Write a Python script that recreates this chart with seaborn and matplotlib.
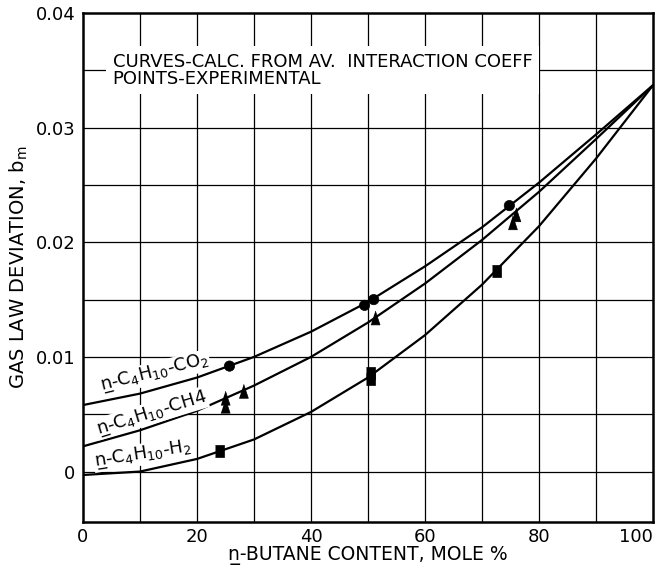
import numpy as np
import pandas as pd
import matplotlib
matplotlib.use("Agg")
import matplotlib.pyplot as plt
import seaborn as sns

# --- dados ---
curve_x = [0, 10, 20, 30, 40, 50, 60, 70, 80, 90, 100]
co2_curve = [0.0058, 0.0068, 0.0082, 0.0100, 0.0122, 0.0148, 0.0179, 0.0213, 0.0252, 0.0294, 0.0337]
ch4_curve = [0.0022, 0.0036, 0.0053, 0.0075, 0.0100, 0.0130, 0.0164, 0.0202, 0.0244, 0.0290, 0.0337]
h2_curve = [-0.0003, 0.0000, 0.0011, 0.0028, 0.0052, 0.0082, 0.0119, 0.0163, 0.0214, 0.0273, 0.0337]

co2_pts_x = [25.7, 49.4, 51.0, 74.8]
co2_pts_y = [0.0092, 0.0145, 0.0150, 0.0232]
ch4_pts_x = [25.0, 25.0, 28.2, 51.3, 76.0, 75.4]
ch4_pts_y = [0.0064, 0.0057, 0.0070, 0.0134, 0.0224, 0.0217]
h2_pts_x = [24.0, 50.5, 50.5, 72.5]
h2_pts_y = [0.0018, 0.0081, 0.0086, 0.0175]

x_ticks = [0, 20, 40, 60, 80, 100]
y_ticks = [0, 0.01, 0.02, 0.03, 0.04]
y_tick_labels = ["0", "0.01", "0.02", "0.03", "0.04"]

sns.set_theme(style="white")
plt.rcParams["font.family"] = ["DejaVu Sans"]
plt.rcParams["mathtext.default"] = "regular"
plt.rcParams["text.color"] = "black"
plt.rcParams["axes.labelcolor"] = "black"

N_SUB = "n\u0332"  # n sublinhado

df_curvas = pd.DataFrame({
    "x": curve_x * 3,
    "b": co2_curve + ch4_curve + h2_curve,
    "sistema": ["CO2"] * 11 + ["CH4"] * 11 + ["H2"] * 11,
})
df_pontos = pd.DataFrame({
    "x": co2_pts_x + ch4_pts_x + h2_pts_x,
    "b": co2_pts_y + ch4_pts_y + h2_pts_y,
    "sistema": ["CO2"] * len(co2_pts_x) + ["CH4"] * len(ch4_pts_x) + ["H2"] * len(h2_pts_x),
})

# marcadores um pouco mais altos que largos, como no original
triangulo = [(-0.33, -0.5), (0.33, -0.5), (0.0, 0.5)]
retangulo = [(-0.4, -0.5), (0.4, -0.5), (0.4, 0.5), (-0.4, 0.5)]

fig = plt.figure(figsize=(6.57, 5.67), dpi=100)
ax = fig.add_axes([83 / 657, 45 / 567, 570 / 657, 509 / 567])

# grade
for gx in np.arange(10, 100, 10):
    ax.axvline(gx, color="black", lw=0.9, zorder=1)
for gy in np.arange(0, 0.04, 0.005):
    ax.axhline(gy, color="black", lw=0.9, zorder=1)

sns.lineplot(data=df_curvas, x="x", y="b", units="sistema", estimator=None,
             color="black", lw=1.6, ax=ax, zorder=3)
sns.scatterplot(data=df_pontos, x="x", y="b", style="sistema", size="sistema",
                markers={"CO2": "o", "CH4": triangulo, "H2": retangulo},
                sizes={"CO2": 55, "CH4": 100, "H2": 70},
                color="black", edgecolor="black", linewidth=0.5,
                legend=False, ax=ax, zorder=4)

ax.set_xlim(0, 100)
ax.set_ylim(-0.0044, 0.040)
ax.set_xticks(x_ticks)
ax.set_yticks(y_ticks)
ax.set_yticklabels(y_tick_labels)
ax.tick_params(axis="both", length=0, labelsize=13, colors="black")
ax.tick_params(axis="x", pad=4.5)
ax.tick_params(axis="y", pad=5.5)
ax.get_xticklabels()[-1].set_horizontalalignment("right")
for sp in ax.spines.values():
    sp.set_linewidth(1.8)
    sp.set_color("black")

ax.set_xlabel(N_SUB + "-BUTANE CONTENT, MOLE %", fontsize=13.5, labelpad=0)
ax.set_ylabel(r"GAS LAW DEVIATION, b$_m$", fontsize=14, labelpad=4)

# texto do quadro
ax.text(5.2, 0.0350, "CURVES-CALC. FROM AV.  INTERACTION COEFF\nPOINTS-EXPERIMENTAL",
        fontsize=13, ha="left", va="center", linespacing=0.9, zorder=5,
        bbox=dict(facecolor="white", edgecolor="none", pad=5))

# rótulos das curvas
caixa = dict(facecolor="white", edgecolor="none", pad=0.5)
ax.text(12.6, 0.0086, N_SUB + r"-C$_4$H$_{10}$-CO$_2$", fontsize=13,
        rotation=14, ha="center", va="center", zorder=5, bbox=caixa)
ax.text(12.0, 0.0051, N_SUB + r"-C$_4$H$_{10}$-CH4", fontsize=13,
        rotation=17, ha="center", va="center", zorder=5, bbox=caixa)
ax.text(10.5, 0.0015, N_SUB + r"-C$_4$H$_{10}$-H$_2$", fontsize=13,
        rotation=9, ha="center", va="center", zorder=5, bbox=caixa)

fig.savefig("out.png", dpi=100)
